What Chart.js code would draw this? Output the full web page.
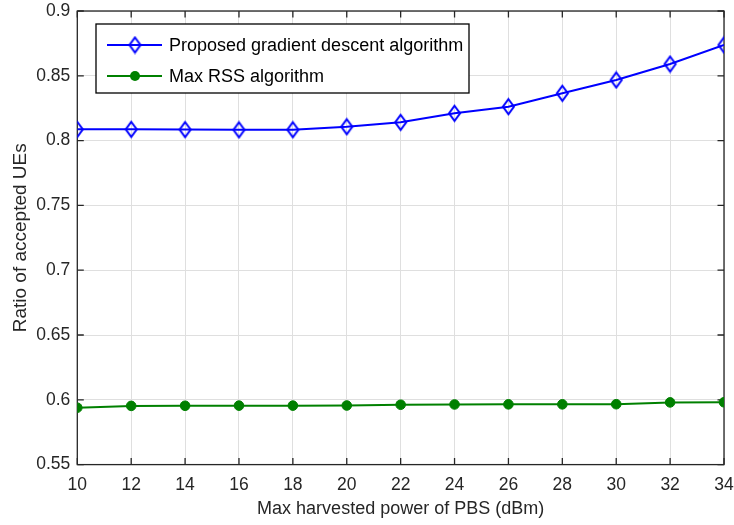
<!DOCTYPE html>
<html>
<head>
<meta charset="utf-8">
<script src="https://cdn.jsdelivr.net/npm/chart.js@4/dist/chart.umd.min.js"></script>
<style>
  html, body { margin: 0; padding: 0; background: #ffffff; }
  #wrap { width: 734px; height: 525px; position: relative; }
</style>
</head>
<body>
<div id="wrap"><canvas id="chart" width="734" height="525"></canvas></div>
<script>
// Max harvested power of the PBS (dBm)
const powerDbm = [10, 12, 14, 16, 18, 20, 22, 24, 26, 28, 30, 32, 34];
// Ratio of accepted UEs per algorithm
const gradientDescent = [0.8087, 0.8087, 0.8085, 0.8083, 0.8084, 0.8107, 0.8141, 0.8211, 0.8262, 0.8365, 0.8468, 0.8591, 0.8738];
const maxRss = [0.5939, 0.5953, 0.5954, 0.5955, 0.5955, 0.5956, 0.5962, 0.5964, 0.5965, 0.5965, 0.5966, 0.5980, 0.5981];
const seriesNames = ['Proposed gradient descent algorithm', 'Max RSS algorithm'];
const xTickLabels = ['10', '12', '14', '16', '18', '20', '22', '24', '26', '28', '30', '32', '34'];
const yTickLabels = ['0.55', '0.6', '0.65', '0.7', '0.75', '0.8', '0.85', '0.9'];

const FONT = '"Liberation Sans", Arial, Helvetica, sans-serif';
const AXIS_COLOR = '#262626';
const BLUE = '#0000ff';
const GREEN = '#008000';

// Open diamond marker, a little taller than wide
function makeDiamond(w, h, color, lw) {
  const c = document.createElement('canvas');
  c.width = w + lw * 2;
  c.height = h + lw * 2;
  const g = c.getContext('2d');
  const cx = c.width / 2, cy = c.height / 2;
  g.strokeStyle = color;
  g.lineWidth = lw;
  g.beginPath();
  g.moveTo(cx, cy - h / 2);
  g.lineTo(cx + w / 2, cy);
  g.lineTo(cx, cy + h / 2);
  g.lineTo(cx - w / 2, cy);
  g.closePath();
  g.stroke();
  return c;
}
const diamond = makeDiamond(11, 15, BLUE, 2);

// Axes box with inward ticks on all four sides
const boxPlugin = {
  id: 'box',
  beforeDatasetsDraw(chart) {
    const { ctx, chartArea: a, scales } = chart;
    const tl = 6.5;
    ctx.save();
    ctx.strokeStyle = AXIS_COLOR;
    ctx.lineWidth = 1.3;
    ctx.strokeRect(a.left, a.top, a.right - a.left, a.bottom - a.top);
    ctx.beginPath();
    scales.x.ticks.forEach(t => {
      const px = scales.x.getPixelForValue(t.value);
      ctx.moveTo(px, a.bottom); ctx.lineTo(px, a.bottom - tl);
      ctx.moveTo(px, a.top); ctx.lineTo(px, a.top + tl);
    });
    scales.y.ticks.forEach(t => {
      const py = scales.y.getPixelForValue(t.value);
      ctx.moveTo(a.left, py); ctx.lineTo(a.left + tl, py);
      ctx.moveTo(a.right, py); ctx.lineTo(a.right - tl, py);
    });
    ctx.stroke();
    ctx.restore();
  }
};

// Boxed legend in the upper left of the plot
const legendPlugin = {
  id: 'boxLegend',
  afterDatasetsDraw(chart) {
    const { ctx } = chart;
    const x0 = 96, y0 = 24, w = 373, h = 69;
    ctx.save();
    ctx.fillStyle = '#ffffff';
    ctx.fillRect(x0, y0, w, h);
    ctx.strokeStyle = '#000000';
    ctx.lineWidth = 1.3;
    ctx.strokeRect(x0, y0, w, h);
    const rows = [45, 76];
    const colors = [BLUE, GREEN];
    rows.forEach((ry, i) => {
      ctx.strokeStyle = colors[i];
      ctx.lineWidth = 2;
      ctx.beginPath();
      ctx.moveTo(107, ry);
      ctx.lineTo(162, ry);
      ctx.stroke();
      if (i === 0) {
        ctx.drawImage(diamond, 135 - diamond.width / 2, ry - diamond.height / 2);
      } else {
        ctx.fillStyle = GREEN;
        ctx.beginPath();
        ctx.arc(135, ry, 5, 0, Math.PI * 2);
        ctx.fill();
      }
      ctx.fillStyle = '#000000';
      ctx.font = '18px ' + FONT;
      ctx.textAlign = 'left';
      ctx.textBaseline = 'middle';
      ctx.fillText(seriesNames[i], 169, ry + 1);
    });
    ctx.restore();
  }
};

const toPoints = ys => powerDbm.map((x, i) => ({ x: x, y: ys[i] }));

new Chart(document.getElementById('chart'), {
  type: 'line',
  data: {
    datasets: [
      {
        label: seriesNames[0],
        data: toPoints(gradientDescent),
        borderColor: BLUE,
        borderWidth: 2,
        pointStyle: diamond,
        pointRadius: 8,
        pointHoverRadius: 8,
        tension: 0,
        fill: false
      },
      {
        label: seriesNames[1],
        data: toPoints(maxRss),
        borderColor: GREEN,
        backgroundColor: GREEN,
        borderWidth: 2,
        pointStyle: 'circle',
        pointRadius: 4.8,
        pointBorderWidth: 1,
        pointBorderColor: GREEN,
        pointBackgroundColor: GREEN,
        tension: 0,
        fill: false
      }
    ]
  },
  options: {
    responsive: false,
    animation: false,
    layout: { padding: { top: 11, right: 0, left: 0, bottom: 0 } },
    plugins: {
      legend: { display: false },
      tooltip: { enabled: false }
    },
    scales: {
      x: {
        type: 'linear',
        min: 10,
        max: 34,
        afterFit(s) { s.height = 60.4; s.paddingLeft = 0; s.paddingRight = 10; },
        afterBuildTicks(s) { s.ticks = powerDbm.map(v => ({ value: v })); },
        ticks: {
          color: AXIS_COLOR,
          font: { family: FONT, size: 17.5 },
          padding: 10,
          maxRotation: 0,
          autoSkip: false,
          callback: (v) => xTickLabels[powerDbm.indexOf(v)]
        },
        grid: { color: 'rgb(223,223,223)', lineWidth: 1, drawTicks: false },
        border: { display: false },
        title: {
          display: true,
          text: 'Max harvested power of PBS (dBm)',
          color: AXIS_COLOR,
          font: { family: FONT, size: 18 },
          padding: { top: 0, bottom: 5 }
        }
      },
      y: {
        type: 'linear',
        min: 0.55,
        max: 0.9,
        afterFit(s) { s.width = 77.3; s.paddingTop = 0; s.paddingBottom = 0; },
        afterBuildTicks(s) { s.ticks = yTickLabels.map(t => ({ value: parseFloat(t) })); },
        ticks: {
          color: AXIS_COLOR,
          font: { family: FONT, size: 17.5 },
          padding: 7,
          autoSkip: false,
          callback: (v) => yTickLabels[Math.round((v - 0.55) / 0.05)]
        },
        grid: { color: 'rgb(223,223,223)', lineWidth: 1, drawTicks: false },
        border: { display: false },
        title: {
          display: true,
          text: 'Ratio of accepted UEs',
          color: AXIS_COLOR,
          font: { family: FONT, size: 19 },
          padding: { top: 9, bottom: 0 }
        }
      }
    }
  },
  plugins: [boxPlugin, legendPlugin]
});
</script>
</body>
</html>
